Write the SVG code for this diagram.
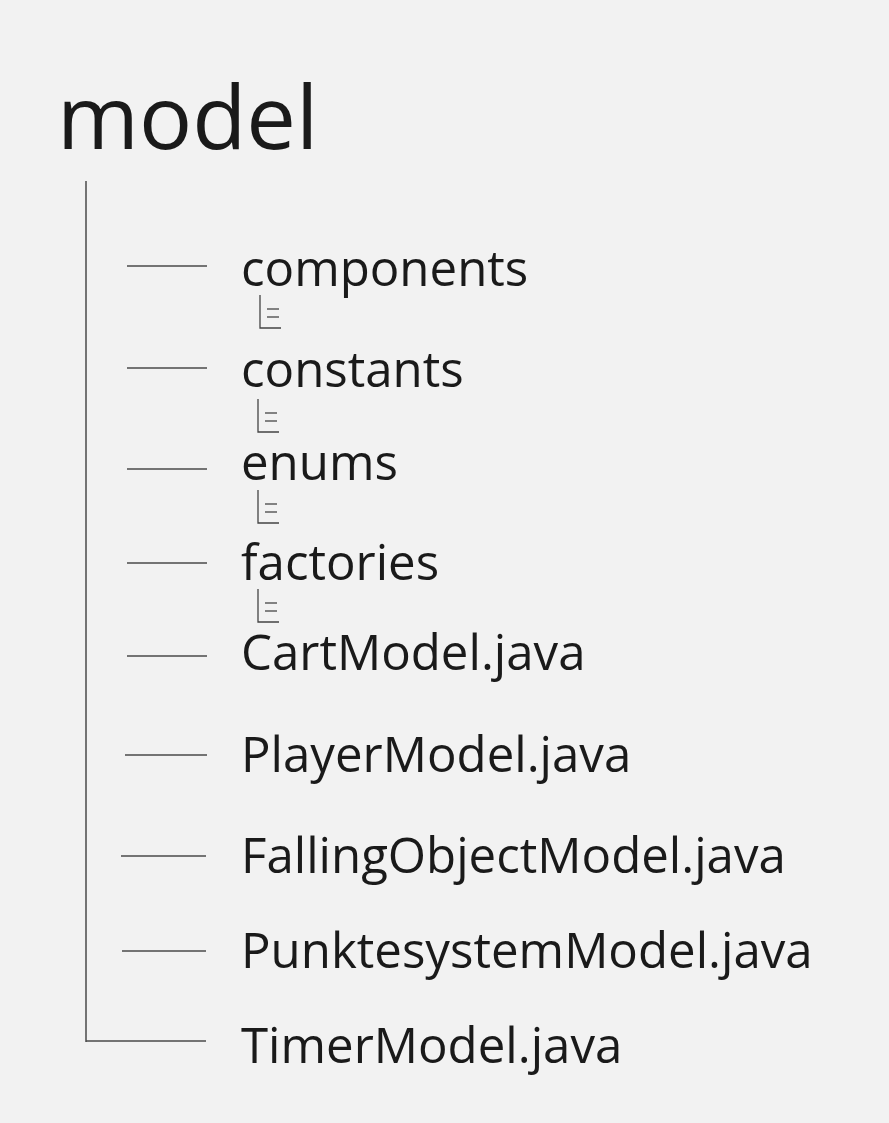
<svg xmlns="http://www.w3.org/2000/svg" width="889" height="1123" viewBox="0 0 889 1123">
<style>
.bg{fill:#f2f2f2}
.t{font-family:"Open Sans","Noto Sans",sans-serif;fill:#1a1a1a}
.lbl{font-size:49.2px}
.title{font-size:88.5px}
.c line{stroke:#4a4a4a;stroke-width:1.5}
.ic{fill:none;stroke:#444;stroke-width:1.3}
</style>
<defs>
<g id="icon" class="ic">
<polyline points="0,0 0,33 21,33"/>
<line x1="7" y1="14" x2="19" y2="14"/>
<line x1="7" y1="22" x2="19" y2="22"/>
</g>
</defs>
<rect class="bg" x="0" y="0" width="889" height="1123"/>
<g id="root"><text class="t title" x="57" y="149">model</text></g>
<g id="connectors" class="c">
<line x1="86" y1="181" x2="86" y2="1042"/>
<line x1="127" y1="266" x2="207" y2="266"/>
<line x1="127" y1="368" x2="207" y2="368"/>
<line x1="127" y1="469" x2="207" y2="469"/>
<line x1="127" y1="563" x2="207" y2="563"/>
<line x1="127" y1="656" x2="207" y2="656"/>
<line x1="125" y1="755" x2="207" y2="755"/>
<line x1="121" y1="856" x2="206" y2="856"/>
<line x1="122" y1="951" x2="206" y2="951"/>
<line x1="86" y1="1041" x2="206" y2="1041"/>
</g>
<g id="components"><text class="t lbl" x="241" y="286">components</text><use href="#icon" x="260" y="295"/></g>
<g id="constants"><text class="t lbl" x="241" y="387">constants</text><use href="#icon" x="258" y="399"/></g>
<g id="enums"><text class="t lbl" x="241" y="480">enums</text><use href="#icon" x="258" y="490"/></g>
<g id="factories"><text class="t lbl" x="241" y="580">factories</text><use href="#icon" x="258" y="589"/></g>
<g id="cartmodel"><text class="t lbl" x="241" y="670">CartModel.java</text></g>
<g id="playermodel"><text class="t lbl" x="241" y="772">PlayerModel.java</text></g>
<g id="fallingobjectmodel"><text class="t lbl" x="241" y="873">FallingObjectModel.java</text></g>
<g id="punktesystemmodel"><text class="t lbl" x="241" y="968">PunktesystemModel.java</text></g>
<g id="timermodel"><text class="t lbl" x="241" y="1063">TimerModel.java</text></g>
</svg>
